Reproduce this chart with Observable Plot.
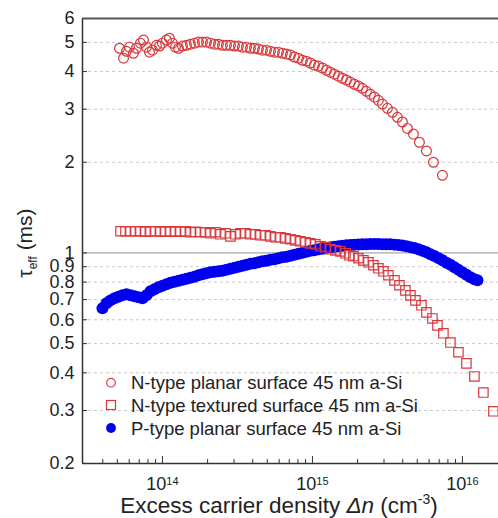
<!DOCTYPE html>
<html><head><meta charset="utf-8">
<script src="https://cdn.jsdelivr.net/npm/d3@7"></script>
<script src="https://cdn.jsdelivr.net/npm/@observablehq/plot@0.6"></script>
<style>
body{margin:0;background:#fff;}
#wrap{width:498px;height:518px;}
</style></head><body><div id="wrap"></div>
<script>
// N-type planar surface 45 nm a-Si (open circles)
const nPlanarDn = [5.17e13,5.50e13,5.75e13,6.03e13,6.41e13,6.71e13,7.13e13,7.47e13,7.82e13,8.19e13,8.58e13,9.12e13,9.55e13,1.00e14,1.063e14,1.113e14,1.166e14,1.221e14,1.279e14,
1.360e14,1.445e14,1.537e14,1.634e14,1.738e14,1.848e14,1.965e14,2.089e14,2.222e14,2.362e14,2.512e14,2.671e14,2.840e14,3.020e14,3.211e14,3.415e14,3.631e14,3.861e14,4.105e14,4.365e14,4.642e14,4.935e14,5.248e14,5.580e14,5.933e14,6.310e14,6.709e14,7.134e14,7.586e14,8.066e14,8.577e14,9.120e14,9.698e14,1.031e15,1.096e15,1.166e15,1.240e15,1.318e15,1.402e15,1.490e15,1.585e15,1.685e15,1.792e15,1.905e15,2.026e15,2.154e15,2.291e15,2.436e15,2.590e15,2.754e15,2.929e15,
3.162e15,3.415e15,3.687e15,3.981e15,4.299e15,4.713e15,5.168e15,5.754e15,6.409e15,7.356e15];
const nPlanarTau = [4.78,4.43,4.67,4.82,4.60,4.78,4.97,5.09,4.82,4.64,4.71,4.89,4.86,4.97,5.09,5.16,4.97,4.82,4.78,
4.86,4.89,4.93,4.97,5.01,5.01,5.01,4.97,4.93,4.93,4.89,4.89,4.89,4.86,4.86,4.82,4.82,4.78,4.78,4.75,4.71,4.71,4.67,4.64,4.64,4.60,4.57,4.54,4.47,4.43,4.36,4.33,4.27,4.20,4.17,4.11,4.04,3.98,3.92,3.86,3.80,3.75,3.69,3.63,3.58,3.52,3.44,3.36,3.29,3.21,3.12,
3.02,2.93,2.82,2.72,2.59,2.48,2.33,2.18,2.00,1.81];

// N-type textured surface 45 nm a-Si (open squares)
const nTexDn = [5.25e13,5.67e13,6.12e13,6.61e13,7.13e13,7.70e13,8.32e13,8.98e13,9.70e13,1.047e14,1.131e14,1.221e14,1.318e14,1.423e14,1.537e14,1.660e14,1.792e14,1.935e14,2.089e14,2.256e14,2.436e14,2.630e14,2.840e14,3.066e14,3.311e14,3.575e14,3.861e14,4.169e14,4.501e14,4.860e14,5.248e14,5.667e14,6.119e14,6.607e14,7.134e14,7.703e14,8.318e14,8.981e14,9.698e14,1.047e15,1.131e15,1.221e15,1.318e15,1.423e15,1.537e15,1.660e15,
1.765e15,1.876e15,2.026e15,2.188e15,2.362e15,2.551e15,2.754e15,2.974e15,3.211e15,3.522e15,3.802e15,4.169e15,4.501e15,4.860e15,5.331e15,5.754e15,6.310e15,6.813e15,7.470e15,8.318e15,9.404e15,1.063e16,1.202e16,1.380e16,1.609e16];
const nTexTau = [1.18,1.18,1.18,1.18,1.18,1.175,1.18,1.18,1.175,1.18,1.175,1.18,1.175,1.18,1.171,1.175,1.171,1.171,1.162,1.171,1.153,1.162,1.135,1.153,1.162,1.162,1.153,1.153,1.144,1.144,1.135,1.127,1.127,1.118,1.110,1.101,1.093,1.084,1.076,1.068,1.052,1.044,1.028,1.020,1.012,0.997,
0.982,0.975,0.960,0.945,0.931,0.910,0.889,0.869,0.843,0.811,0.781,0.751,0.723,0.696,0.670,0.635,0.606,0.575,0.541,0.504,0.468,0.430,0.389,0.344,0.298];

// P-type planar surface 45 nm a-Si (filled circles)
const pPlanarDn = [3.981e13,4.232e13,4.501e13,4.786e13,5.089e13,5.412e13,5.754e13,6.119e13,6.506e13,6.918e13,7.356e13,7.822e13,8.318e13,8.844e13,9.404e13,1.000e14,1.063e14,1.131e14,1.202e14,1.279e14,1.360e14,1.445e14,1.537e14,1.634e14,1.738e14,1.848e14,1.965e14,2.089e14,2.222e14,2.362e14,2.512e14,2.671e14,2.840e14,3.020e14,3.211e14,3.415e14,3.631e14,3.861e14,4.105e14,4.365e14,4.642e14,4.935e14,5.248e14,5.580e14,5.933e14,6.310e14,6.709e14,7.134e14,7.586e14,8.066e14,8.577e14,9.120e14,9.698e14,1.031e15,1.096e15,1.166e15,1.240e15,1.318e15,1.402e15,1.490e15,1.585e15,1.685e15,1.792e15,1.905e15,2.026e15,2.154e15,2.291e15,2.436e15,2.590e15,2.754e15,2.929e15,3.114e15,3.311e15,3.522e15,3.744e15,3.981e15,4.233e15,4.501e15,4.786e15,5.089e15,5.412e15,5.754e15,6.119e15,6.506e15,6.918e15,7.356e15,7.822e15,8.318e15,8.844e15,9.404e15,1.000e16,1.063e16,1.131e16,1.202e16,1.259e16];
const pPlanarTau = [0.6546,0.6802,0.6958,0.7067,0.7149,0.7230,0.7286,0.7230,0.7176,0.7122,0.7067,0.7230,0.7455,0.7570,0.7687,0.7776,0.7865,0.7956,0.8017,0.8079,0.8141,0.8203,0.8266,0.8330,0.8426,0.8490,0.8556,0.8621,0.8654,0.8687,0.8721,0.8788,0.8855,0.8923,0.8992,0.9061,0.9130,0.9200,0.9235,0.9306,0.9378,0.9414,0.9486,0.9522,0.9595,0.9669,0.9706,0.9781,0.9856,0.9931,1.0007,1.0084,1.0162,1.0200,1.0279,1.0318,1.0397,1.0437,1.0477,1.0517,1.0558,1.0598,1.0622,1.0647,1.0663,1.0679,1.0688,1.0696,1.0696,1.0696,1.0688,1.0679,1.0679,1.0655,1.0622,1.0574,1.0517,1.0453,1.0374,1.0279,1.0162,1.0046,0.9908,0.9766,0.9610,0.9452,0.9285,0.9130,0.8957,0.8788,0.8621,0.8458,0.8298,0.8172,0.8110];

const seriesNames = ["N-type planar surface 45 nm a-Si","N-type textured surface 45 nm a-Si","P-type planar surface 45 nm a-Si"];
const xDomain = [2.93e13, 1.74e16];
const yDomain = [0.2, 6];
const yTicks = [0.2,0.3,0.4,0.5,0.6,0.7,0.8,0.9,1,2,3,4,5,6];
const yGrid = [0.3,0.4,0.5,0.6,0.7,0.8,0.9,2,3,4,5];
const xMajor = [1e14,1e15,1e16];
const xMinor = [4e13,5e13,6e13,7e13,8e13,9e13,2e14,3e14,4e14,5e14,6e14,7e14,8e14,9e14,2e15,3e15,4e15,5e15,6e15,7e15,8e15,9e15];

const zip = (xs, ys) => xs.map((x, i) => ({x, y: ys[i]}));
const planar = zip(nPlanarDn, nPlanarTau);
const textured = zip(nTexDn, nTexTau);
const pplanar = zip(pPlanarDn, pPlanarTau);

const RED = "#d8383c", BLUE = "#0000ee";
const FONT = 'Arial, "Liberation Sans", sans-serif';

const chart = Plot.plot({
  width: 498, height: 518,
  marginLeft: 82, marginRight: 0, marginTop: 18, marginBottom: 55,
  style: {fontFamily: FONT, background: "white", overflow: "visible", color: "#222"},
  x: {type: "log", domain: xDomain},
  y: {type: "log", domain: yDomain},
  marks: [
    Plot.ruleY(yGrid, {stroke: "#c8c8c8", strokeDasharray: "3,3", strokeWidth: 1}),
    Plot.ruleY([1], {stroke: "#a8a8a8", strokeWidth: 1.2}),
    Plot.dot(pplanar, {x: "x", y: "y", r: 6, fill: BLUE, stroke: "none"}),
    Plot.dot(textured, {x: "x", y: "y", r: 5.3, symbol: "square", stroke: RED, fill: "none", strokeWidth: 1.2}),
    Plot.dot(planar, {x: "x", y: "y", r: 4.9, stroke: RED, fill: "none", strokeWidth: 1.2}),
    Plot.axisY(yTicks, {anchor: "left", tickSize: 0, tickPadding: 8, tickFormat: d => String(d), fontSize: 18, fill: "#222", label: null}),
    Plot.axisY(yTicks, {anchor: "left", tickSize: -5, tickFormat: () => "", label: null, stroke: "#333"}),
    Plot.axisX(xMajor, {anchor: "bottom", tickSize: -7, tickPadding: 21, tickFormat: d => "10^" + Math.round(Math.log10(d)), fontSize: 18, fill: "#222", label: null, stroke: "#333"}),
    Plot.axisX(xMinor, {anchor: "bottom", tickSize: -4, tickFormat: () => "", label: null, stroke: "#333"}),
    Plot.ruleX([xDomain[0]], {stroke: "#333", strokeWidth: 1.5}),
    Plot.ruleY([yDomain[0]], {stroke: "#333", strokeWidth: 1.5}),
    Plot.ruleY([yDomain[1]], {stroke: "#555", strokeWidth: 2})
  ]
});
document.getElementById("wrap").appendChild(chart);

const svg = d3.select(chart);
// superscripts on x tick labels
svg.selectAll('[aria-label="x-axis tick label"] text').each(function() {
  const t = this.textContent;
  if (!t.startsWith("10^")) return;
  const exp = t.slice(3);
  const sel = d3.select(this);
  sel.text(null);
  sel.append("tspan").text("10");
  sel.append("tspan").attr("dy", "-0.45em").attr("font-size", 11).text(exp);
});

// x title
const xt = svg.append("text").attr("x", 279).attr("y", 513).attr("text-anchor", "middle")
  .attr("font-family", FONT).attr("font-size", 22.5).attr("fill", "#222");
xt.append("tspan").text("Excess carrier density ");
xt.append("tspan").attr("font-style", "italic").text("Δn");
xt.append("tspan").text(" (cm");
xt.append("tspan").attr("dy", -9).attr("font-size", 14).text("-3");
xt.append("tspan").attr("dy", 9).text(")");

// y title
const yt = svg.append("text").attr("transform", "translate(32,243) rotate(-90)").attr("text-anchor", "middle")
  .attr("font-family", FONT).attr("font-size", 21).attr("fill", "#222");
yt.append("tspan").text("τ");
yt.append("tspan").attr("dy", 5).attr("font-size", 12).text("eff");
yt.append("tspan").attr("dy", -5).text(" (ms)");

// legend
const lg = svg.append("g").attr("font-family", FONT).attr("font-size", 18.5).attr("fill", "#222").attr("text-anchor", "start");
const rowsY = [382.7, 405, 428];
lg.append("circle").attr("cx", 111).attr("cy", rowsY[0]).attr("r", 4.3).attr("fill", "none").attr("stroke", RED).attr("stroke-width", 1.2);
lg.append("rect").attr("x", 106.5).attr("y", rowsY[1] - 4.5).attr("width", 9).attr("height", 9).attr("fill", "none").attr("stroke", RED).attr("stroke-width", 1.2);
lg.append("circle").attr("cx", 111).attr("cy", rowsY[2]).attr("r", 4.9).attr("fill", BLUE);
seriesNames.forEach((s, i) => {
  lg.append("text").attr("x", 131).attr("y", rowsY[i]).attr("dy", "0.36em").attr("text-anchor", "start").text(s);
});
</script>
</body></html>
